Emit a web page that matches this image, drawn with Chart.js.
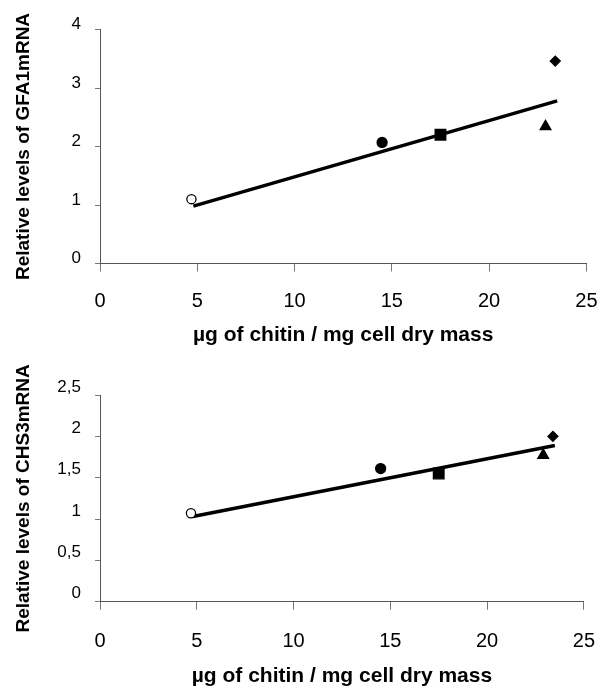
<!DOCTYPE html>
<html>
<head>
<meta charset="utf-8">
<script src="https://cdn.jsdelivr.net/npm/chart.js@4.4.1/dist/chart.umd.min.js"></script>
<style>
  html, body { margin: 0; padding: 0; background: #fff; }
  #wrap { position: relative; width: 615px; height: 686px; overflow: hidden; }
  canvas { position: absolute; left: 0; }
  #top { top: 0; }
  #bottom { top: 341px; }
</style>
</head>
<body>
<div id="wrap">
  <canvas id="top" width="615" height="346"></canvas>
  <canvas id="bottom" width="615" height="346"></canvas>
</div>
<script>
// µg chitin / mg cell dry mass for each strain
var chitin = [4.7, 14.5, 17.5, 22.9, 23.4];
var gfa1 = [1.1, 2.07, 2.2, 2.34, 3.46];
var chs3 = [1.07, 1.61, 1.55, 1.77, 2.0];

// regression lines (end points)
var fitX = [4.8, 23.5];
var gfa1Fit = [0.98, 2.78];
var chs3Fit = [1.03, 1.89];

var xTicks = ["0", "5", "10", "15", "20", "25"];
var yTicksTop = ["0", "1", "2", "3", "4"];
var yTicksBottom = ["0", "0,5", "1", "1,5", "2", "2,5"];

var pointStyles = ["circle", "circle", "rect", "triangle", "rectRot"];
var pointFills = ["#fff", "#000", "#000", "#000", "#000"];
var pointSizes = [4.6, 5, 7.5, 6.2, 5];

var font = "'Liberation Sans', Arial, sans-serif";

function toPoints(xs, ys) {
  return xs.map(function(x, i) {
    return { x: x, y: ys[i] };
  });
}

function makeChart(id, cfg) {
  var ctx = document.getElementById(id).getContext("2d");

  return new Chart(ctx, {
    type: "scatter",
    data: {
      datasets: [{
        data: toPoints(chitin, cfg.values),
        pointStyle: pointStyles,
        backgroundColor: pointFills,
        borderColor: "#000",
        borderWidth: 1.3,
        pointRadius: pointSizes,
        order: 0,
      }, {
        type: "line",
        data: toPoints(fitX, cfg.fit),
        borderColor: "#000",
        borderWidth: 3.5,
        pointRadius: 0,
        fill: false,
        order: 1,
      }],
    },
    options: {
      responsive: false,
      animation: false,
      layout: {
        padding: { left: 0, right: cfg.padRight, top: cfg.padTop, bottom: 0 },
      },
      plugins: {
        legend: { display: false },
        tooltip: { enabled: false },
      },
      scales: {
        x: {
          type: "linear",
          min: 0,
          max: 25,
          afterFit: function(scale) { scale.height = cfg.xHeight; },
          border: { color: "#555", width: 1 },
          grid: { drawOnChartArea: false, drawTicks: true, tickLength: 8, color: "#777" },
          ticks: {
            stepSize: 5,
            padding: cfg.xPad,
            color: "#000",
            font: { family: font, size: 20 },
            callback: function(v, i) { return xTicks[i]; },
          },
          title: {
            display: true,
            text: "µg of chitin / mg cell dry mass",
            color: "#000",
            font: { family: font, size: 21, weight: "bold", lineHeight: 1 },
            padding: { top: 0, bottom: 0 },
          },
        },
        y: {
          type: "linear",
          min: 0,
          max: cfg.yMax,
          afterFit: function(scale) { scale.width = 100; },
          border: { color: "#555", width: 1 },
          grid: { drawOnChartArea: false, drawTicks: true, tickLength: 5, color: "#777" },
          ticks: {
            stepSize: cfg.yStep,
            padding: 14,
            labelOffset: cfg.yLabelOffset,
            color: "#000",
            font: { family: font, size: 17 },
            callback: function(v, i) { return cfg.yTicks[i]; },
          },
          title: {
            display: true,
            text: cfg.yTitle,
            color: "#000",
            font: { family: font, size: 19, weight: "bold", lineHeight: 1.2 },
            padding: { top: 12, bottom: 0 },
          },
        },
      },
    },
  });
}

makeChart("top", {
  values: gfa1,
  fit: gfa1Fit,
  yMax: 4,
  yStep: 1,
  yTicks: yTicksTop,
  yTitle: "Relative levels of GFA1mRNA",
  yLabelOffset: -5,
  padTop: 29.5,
  padRight: 25,
  xHeight: 82.5,
  xPad: 17.5,
});

makeChart("bottom", {
  values: chs3,
  fit: chs3Fit,
  yMax: 2.5,
  yStep: 0.5,
  yTicks: yTicksBottom,
  yTitle: "Relative levels of CHS3mRNA",
  yLabelOffset: -8,
  padTop: 54,
  padRight: 10,
  xHeight: 85.3,
  xPad: 20,
});
</script>
</body>
</html>
